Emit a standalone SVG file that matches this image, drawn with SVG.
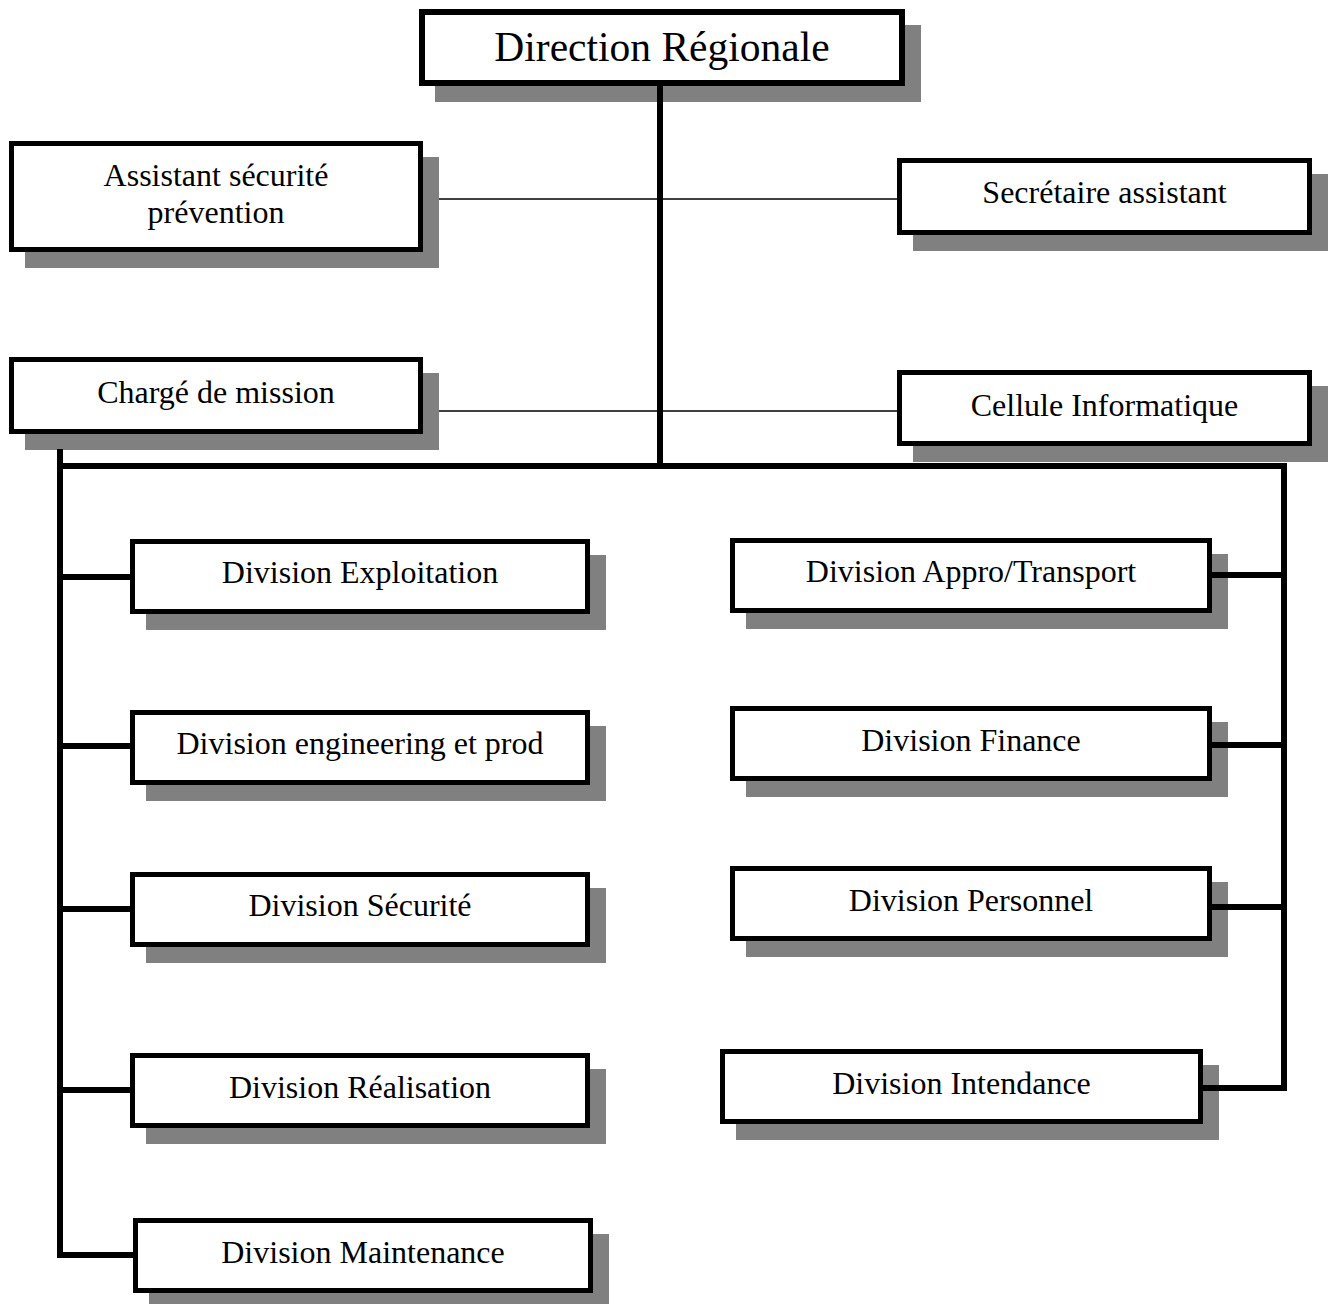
<svg xmlns="http://www.w3.org/2000/svg" width="1328" height="1304" viewBox="0 0 1328 1304">
  <style>
    .shadow { fill: #808080; }
    .box { fill: #ffffff; stroke: #000000; stroke-width: 5; }
    .box-main { fill: #ffffff; stroke: #000000; stroke-width: 6; }
    .label { font-family: "Liberation Serif", "Times New Roman", serif; font-size: 32px; fill: #000000; text-anchor: middle; }
    .label-main { font-family: "Liberation Serif", "Times New Roman", serif; font-size: 41.5px; fill: #000000; text-anchor: middle; }
    .thick { stroke: #000000; stroke-width: 6; fill: none; stroke-linecap: square; }
    .thin { stroke: #000000; stroke-width: 1.6; fill: none; }
  </style>

  <rect width="1328" height="1304" fill="#ffffff"/>

  <!-- top level -->
  <g id="direction-regionale">
    <rect class="shadow" x="435" y="25" width="486" height="77"/>
    <rect class="box-main" x="422" y="12" width="480" height="71"/>
    <text class="label-main" x="662" y="61">Direction Régionale</text>
  </g>

  <!-- staff functions -->
  <g id="assistant-securite">
    <rect class="shadow" x="25" y="157" width="414" height="111"/>
    <rect class="box" x="11.5" y="143.5" width="409" height="106"/>
    <text class="label" x="216" y="186">Assistant sécurité</text>
    <text class="label" x="216" y="223">prévention</text>
  </g>

  <g id="secretaire-assistant">
    <rect class="shadow" x="913" y="174" width="415" height="77"/>
    <rect class="box" x="899.5" y="160.5" width="410" height="72"/>
    <text class="label" x="1104.5" y="203">Secrétaire assistant</text>
  </g>

  <g id="charge-de-mission">
    <rect class="shadow" x="25" y="373" width="414" height="77"/>
    <rect class="box" x="11.5" y="359.5" width="409" height="72"/>
    <text class="label" x="216" y="403">Chargé de mission</text>
  </g>

  <g id="cellule-informatique">
    <rect class="shadow" x="913" y="386" width="415" height="76"/>
    <rect class="box" x="899.5" y="372.5" width="410" height="71"/>
    <text class="label" x="1104.5" y="416">Cellule Informatique</text>
  </g>

  <!-- divisions, left column -->
  <g id="division-exploitation">
    <rect class="shadow" x="146" y="555" width="460" height="75"/>
    <rect class="box" x="132.5" y="541.5" width="455" height="70"/>
    <text class="label" x="360" y="583">Division Exploitation</text>
  </g>

  <g id="division-engineering">
    <rect class="shadow" x="146" y="726" width="460" height="75"/>
    <rect class="box" x="132.5" y="712.5" width="455" height="70"/>
    <text class="label" x="360" y="754">Division engineering et prod</text>
  </g>

  <g id="division-securite">
    <rect class="shadow" x="146" y="888" width="460" height="75"/>
    <rect class="box" x="132.5" y="874.5" width="455" height="70"/>
    <text class="label" x="360" y="916">Division Sécurité</text>
  </g>

  <g id="division-realisation">
    <rect class="shadow" x="146" y="1069" width="460" height="75"/>
    <rect class="box" x="132.5" y="1055.5" width="455" height="70"/>
    <text class="label" x="360" y="1098">Division Réalisation</text>
  </g>

  <g id="division-maintenance">
    <rect class="shadow" x="149" y="1234" width="460" height="70"/>
    <rect class="box" x="135.5" y="1220.5" width="455" height="70"/>
    <text class="label" x="363" y="1263">Division Maintenance</text>
  </g>

  <!-- divisions, right column -->
  <g id="division-appro-transport">
    <rect class="shadow" x="746" y="554" width="482" height="75"/>
    <rect class="box" x="732.5" y="540.5" width="477" height="70"/>
    <text class="label" x="971" y="582">Division Appro/Transport</text>
  </g>

  <g id="division-finance">
    <rect class="shadow" x="746" y="722" width="482" height="75"/>
    <rect class="box" x="732.5" y="708.5" width="477" height="70"/>
    <text class="label" x="971" y="751">Division Finance</text>
  </g>

  <g id="division-personnel">
    <rect class="shadow" x="746" y="882" width="482" height="75"/>
    <rect class="box" x="732.5" y="868.5" width="477" height="70"/>
    <text class="label" x="971" y="911">Division Personnel</text>
  </g>

  <g id="division-intendance">
    <rect class="shadow" x="736" y="1065" width="483" height="75"/>
    <rect class="box" x="722.5" y="1051.5" width="478" height="70"/>
    <text class="label" x="961.5" y="1094">Division Intendance</text>
  </g>

  <!-- connectors, drawn last so the trunk runs over the shadow -->
  <g id="connectors">
    <line class="thin" x1="439" y1="199" x2="897" y2="199"/>
    <line class="thin" x1="439" y1="411" x2="897" y2="411"/>
    <line class="thick" x1="660" y1="86" x2="660" y2="466"/>
    <line class="thick" x1="60" y1="466" x2="1284" y2="466"/>
    <line class="thick" x1="60" y1="452" x2="60" y2="1255"/>
    <line class="thick" x1="1284" y1="466" x2="1284" y2="1088"/>
    <line class="thick" x1="60" y1="577" x2="130" y2="577"/>
    <line class="thick" x1="60" y1="746" x2="130" y2="746"/>
    <line class="thick" x1="60" y1="909" x2="130" y2="909"/>
    <line class="thick" x1="60" y1="1090" x2="130" y2="1090"/>
    <line class="thick" x1="60" y1="1255" x2="133" y2="1255"/>
    <line class="thick" x1="1212" y1="575" x2="1284" y2="575"/>
    <line class="thick" x1="1212" y1="745" x2="1284" y2="745"/>
    <line class="thick" x1="1212" y1="907" x2="1284" y2="907"/>
    <line class="thick" x1="1203" y1="1088" x2="1284" y2="1088"/>
  </g>
</svg>
